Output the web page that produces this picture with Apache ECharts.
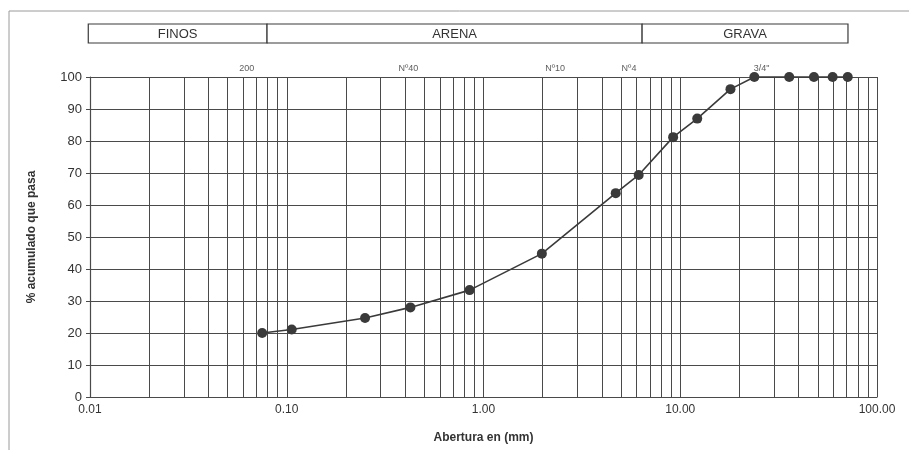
<!DOCTYPE html>
<html>
<head>
<meta charset="utf-8">
<script src="https://cdn.jsdelivr.net/npm/echarts@6/dist/echarts.min.js"></script>
<style>
html, body { margin: 0; padding: 0; background: #fff; }
#chart { width: 909px; height: 450px; }
</style>
</head>
<body>
<div id="chart"></div>
<script>
// curva granulometrica: abertura (mm) vs % acumulado que pasa
var aberturas = [0.075, 0.106, 0.25, 0.425, 0.85, 1.98, 4.7, 6.15, 9.2, 12.2, 18, 23.8, 35.8, 47.8, 59.5, 71];
var pasa = [20, 21.1, 24.7, 28, 33.4, 44.8, 63.7, 69.4, 81.2, 87, 96.2, 100, 100, 100, 100, 100];

// nombres de tamices sobre el grafico
var tamices = ["200", "Nº40", "Nº10", "Nº4", "3/4\""];
var tamicesX = [0.0626, 0.415, 2.31, 5.49, 25.9];

// franjas de la cabecera
var zonas = ["FINOS", "ARENA", "GRAVA"];
var zonasLimites = [0.0098, 0.0794, 6.4, 71.2];

// lineas menores de la escala logaritmica
var decadas = [0.01, 0.1, 1, 10];
var multiplos = [2, 3, 4, 5, 6, 7, 8, 9];

var colorLinea = "#4a4a4a";
var colorTexto = "#333";

var lineasMenores = [];
decadas.forEach(function (d) {
  multiplos.forEach(function (m) {
    lineasMenores.push({ xAxis: d * m });
  });
});

var myChart = echarts.init(document.getElementById("chart"));

myChart.setOption({
  backgroundColor: "#fff",
  animation: false,
  textStyle: { fontFamily: "Liberation Sans, Arial, sans-serif" },
  grid: {
    left: 90,
    right: 32,
    top: 77,
    bottom: 53,
    containLabel: false,
    outerBoundsMode: "none"
  },
  xAxis: {
    type: "log",
    logBase: 10,
    min: 0.01,
    max: 100,
    name: "Abertura en (mm)",
    nameLocation: "middle",
    nameGap: 35,
    nameTextStyle: { fontWeight: "bold", fontSize: 12, color: colorTexto },
    axisLine: { show: true, lineStyle: { color: colorLinea, width: 1.2 } },
    axisTick: { show: false },
    axisLabel: {
      fontSize: 12,
      color: colorTexto,
      margin: 7,
      formatter: function (v) { return Number(v).toFixed(2); }
    },
    splitLine: { show: true, lineStyle: { color: colorLinea, width: 1 } }
  },
  yAxis: {
    type: "value",
    min: 0,
    max: 100,
    interval: 10,
    name: "% acumulado que pasa",
    nameLocation: "middle",
    nameGap: 52,
    nameRotate: 90,
    nameTextStyle: { fontWeight: "bold", fontSize: 12, color: colorTexto },
    axisLine: { show: true, lineStyle: { color: colorLinea, width: 1.2 } },
    axisTick: { show: true, length: 4, lineStyle: { color: colorLinea } },
    axisLabel: { fontSize: 13, color: colorTexto, margin: 8 },
    splitLine: { show: true, lineStyle: { color: colorLinea, width: 1 } }
  },
  series: [
    {
      name: "Granulometria",
      type: "line",
      data: aberturas.map(function (a, i) { return [a, pasa[i]]; }),
      symbol: "circle",
      symbolSize: 10,
      clip: false,
      lineStyle: { color: "#3a3a3a", width: 1.6 },
      itemStyle: { color: "#3a3a3a" },
      z: 5,
      markLine: {
        silent: true,
        symbol: "none",
        label: { show: false },
        lineStyle: { color: colorLinea, width: 1, type: "solid" },
        data: lineasMenores,
        z: 1
      }
    },
    {
      name: "Tamices",
      type: "scatter",
      data: tamicesX.map(function (x, i) { return [x, 100, tamices[i]]; }),
      symbolSize: 0,
      clip: false,
      silent: true,
      label: {
        show: true,
        position: "top",
        distance: 4,
        fontSize: 9,
        color: colorTexto,
        formatter: function (p) { return p.value[2]; }
      }
    }
  ]
});

// cabecera FINOS / ARENA / GRAVA, situada con la escala del eje x
var px = zonasLimites.map(function (v) {
  return myChart.convertToPixel({ xAxisIndex: 0 }, v);
});
var cabArriba = 24, cabAbajo = 43;
var graficos = [
  {
    type: "rect",
    shape: { x: 9, y: 11, width: 1000, height: 1000 },
    style: { fill: "none", stroke: "#9a9a9a", lineWidth: 1 },
    silent: true
  }
];
zonas.forEach(function (z, i) {
  graficos.push({
    type: "rect",
    shape: { x: px[i], y: cabArriba, width: px[i + 1] - px[i], height: cabAbajo - cabArriba },
    style: { fill: "#fff", stroke: "#3a3a3a", lineWidth: 1.2 }
  });
  graficos.push({
    type: "text",
    x: (px[i] + px[i + 1]) / 2,
    y: (cabArriba + cabAbajo) / 2 + 1,
    style: {
      text: z,
      fill: colorTexto,
      fontSize: 13,
      fontFamily: "Liberation Sans, Arial, sans-serif",
      align: "center",
      verticalAlign: "middle"
    }
  });
});
myChart.setOption({ graphic: graficos });
</script>
</body>
</html>
